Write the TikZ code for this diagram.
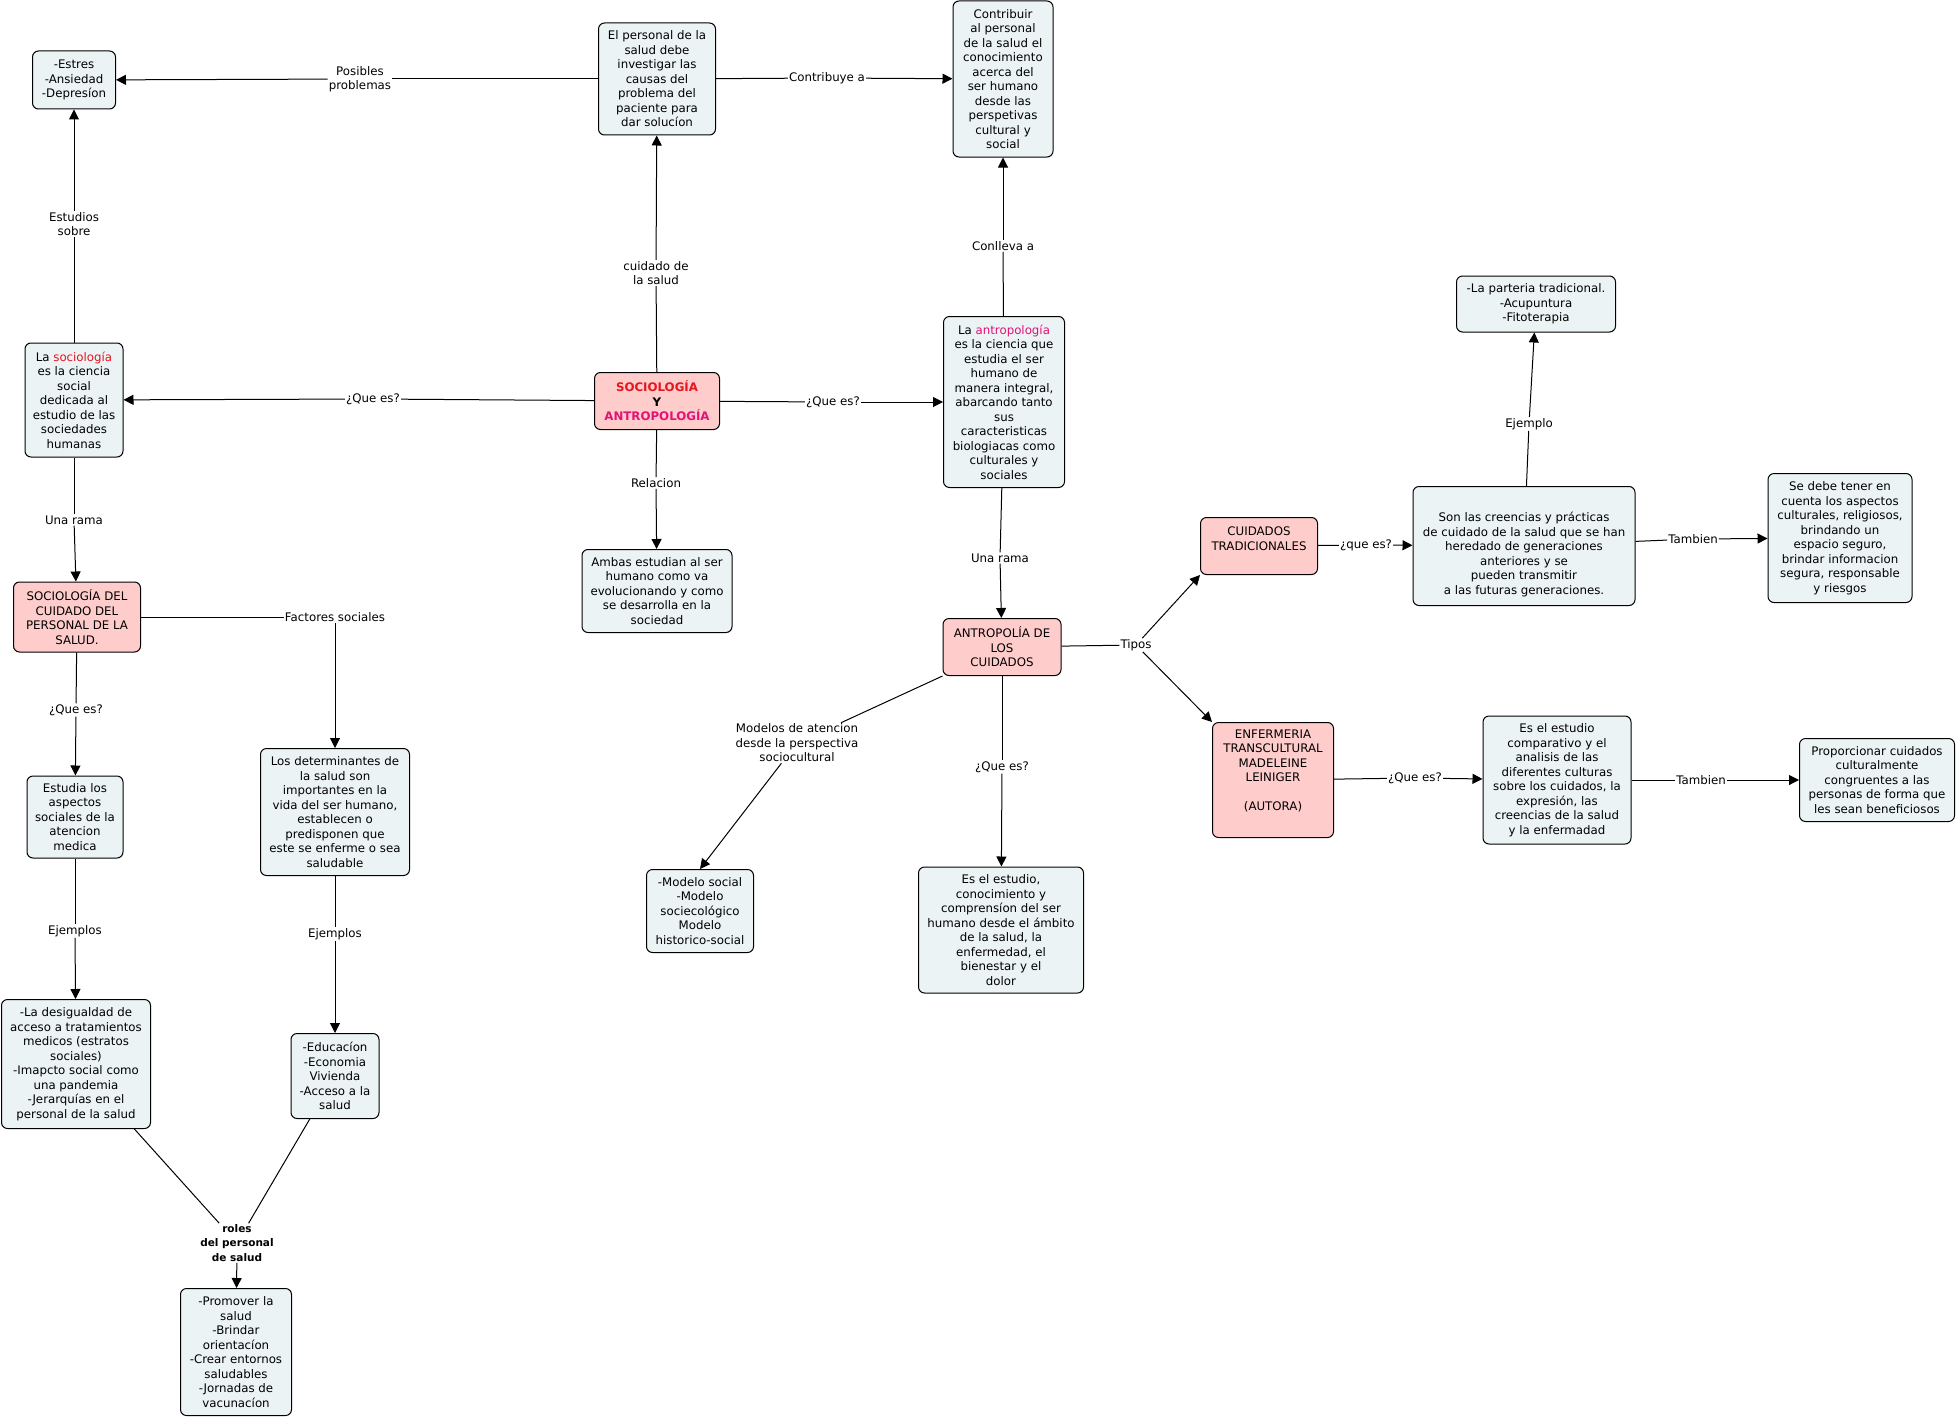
\documentclass[tikz,border=0pt]{standalone}
\usepackage{fontspec}
\setmainfont{DejaVu Sans}
\usetikzlibrary{arrows.meta}
\definecolor{conceptfill}{RGB}{236,243,245}
\definecolor{keyfill}{RGB}{255,204,204}
\definecolor{socred}{RGB}{228,22,30}
\definecolor{antmag}{RGB}{226,18,118}
\begin{document}
\begin{tikzpicture}[x=1pt,y=-1pt,
  every node/.style={font=\fontsize{11.8}{14.5}\selectfont,align=center},
  concept/.style={draw,rounded corners=6pt,fill=conceptfill,line width=1pt,inner sep=2pt},
  keybox/.style={concept,fill=keyfill},
  linkph/.style={fill=white,inner sep=1pt},
  ln/.style={line width=1pt},
  arr/.style={line width=1pt,-{Triangle[length=10pt,width=10pt]}}]
  \useasboundingbox (0,0) rectangle (1956,1418);
  \node[concept,minimum width=83pt,minimum height=58pt] (estres) at (74,80) {-Estres\\-Ansiedad\\-Depresíon};
  \node[concept,minimum width=117pt,minimum height=112pt] (personal) at (657,79) {El personal de la\\salud debe\\investigar las\\causas del\\problema del\\paciente para\\dar solucíon};
  \node[concept,minimum width=100pt,minimum height=156pt] (contribuir) at (1003,79) {Contribuir\\al personal\\de la salud el\\conocimiento\\acerca del\\ser humano\\desde las\\perspetivas\\cultural y\\social};
  \node[concept,minimum width=98pt,minimum height=114pt] (socio) at (74,400) {La \textcolor{socred}{sociología}\\es la ciencia\\social\\dedicada al\\estudio de las\\sociedades\\humanas};
  \node[keybox,font=\fontsize{11.8}{14.5}\selectfont\bfseries,minimum width=125pt,minimum height=57pt] (main) at (657,401) {\textcolor{socred}{SOCIOLOGÍA}\\Y\\\textcolor{antmag}{ANTROPOLOGÍA}};
  \node[concept,minimum width=121pt,minimum height=171pt] (antro) at (1004,402) {La \textcolor{antmag}{antropología}\\es la ciencia que\\estudia el ser\\humano de\\manera integral,\\abarcando tanto\\sus\\caracteristicas\\biologiacas como\\culturales y\\sociales};
  \node[concept,minimum width=150pt,minimum height=83pt] (ambas) at (657,591) {Ambas estudian al ser\\humano como va\\evolucionando y como\\se desarrolla en la\\sociedad};
  \node[keybox,minimum width=118pt,minimum height=57pt] (antcuid) at (1002,647) {ANTROPOLÍA DE\\LOS\\CUIDADOS};
  \node[concept,minimum width=107pt,minimum height=83pt] (modelos) at (700,911) {-Modelo social\\-Modelo\\sociecológico\\Modelo\\historico-social};
  \node[concept,minimum width=165pt,minimum height=126pt] (esestudio) at (1001,930) {Es el estudio,\\conocimiento y\\comprensíon del ser\\humano desde el ámbito\\de la salud, la\\enfermedad, el\\bienestar y el\\dolor};
  \node[keybox,minimum width=117pt,minimum height=57pt] (cuidtrad) at (1259,546) {CUIDADOS\\TRADICIONALES\\[0.5pt]\mbox{}};
  \node[concept,minimum width=222pt,minimum height=119pt] (creencias) at (1524,546) {\mbox{}\\[12pt]Son las creencias y prácticas\\de cuidado de la salud que se han\\heredado de generaciones\\anteriores y se\\pueden transmitir\\a las futuras generaciones.};
  \node[concept,minimum width=159pt,minimum height=56pt] (parteria) at (1536,304) {-La parteria tradicional.\\-Acupuntura\\-Fitoterapia};
  \node[concept,minimum width=144pt,minimum height=129pt] (sedebe) at (1840,538) {Se debe tener en\\cuenta los aspectos\\culturales, religiosos,\\brindando un\\espacio seguro,\\brindar informacion\\segura, responsable\\y riesgos};
  \node[keybox,minimum width=121pt,minimum height=115pt] (enfermeria) at (1273,780) {ENFERMERIA\\TRANSCULTURAL\\MADELEINE\\LEINIGER\\[14.5pt](AUTORA)\\[5pt]\mbox{}};
  \node[concept,minimum width=148pt,minimum height=128pt] (comparativo) at (1557,780) {Es el estudio\\comparativo y el\\analisis de las\\diferentes culturas\\sobre los cuidados, la\\expresión, las\\creencias de la salud\\y la enfermadad};
  \node[concept,minimum width=155pt,minimum height=83pt] (proporcionar) at (1877,780) {Proporcionar cuidados\\culturalmente\\congruentes a las\\personas de forma que\\les sean beneficiosos};
  \node[keybox,minimum width=127pt,minimum height=70pt] (sociocuid) at (77,617) {SOCIOLOGÍA DEL\\CUIDADO DEL\\PERSONAL DE LA\\SALUD.};
  \node[concept,minimum width=96pt,minimum height=82pt] (estudia) at (75,817) {Estudia los\\aspectos\\sociales de la\\atencion\\medica};
  \node[concept,minimum width=149pt,minimum height=127pt] (determinantes) at (335,812) {Los determinantes de\\la salud son\\importantes en la\\vida del ser humano,\\establecen o\\predisponen que\\este se enferme o sea\\saludable};
  \node[concept,minimum width=149pt,minimum height=129pt] (desigualdad) at (76,1064) {-La desigualdad de\\acceso a tratamientos\\medicos (estratos\\sociales)\\-Imapcto social como\\una pandemia\\-Jerarquías en el\\personal de la salud};
  \node[concept,minimum width=88pt,minimum height=85pt] (educacion) at (335,1076) {-Educacíon\\-Economia\\Vivienda\\-Acceso a la\\salud};
  \node[concept,minimum width=111pt,minimum height=127pt] (promover) at (236,1352) {-Promover la\\salud\\-Brindar\\orientacíon\\-Crear entornos\\saludables\\-Jornadas de\\vacunacíon};
  \node[linkph] (lposibles) at (360,79) {Posibles\\problemas};
  \node[linkph] (lcontribuye) at (827,78) {Contribuye a};
  \node[linkph] (lcuidado) at (656,273) {cuidado de\\la salud};
  \node[linkph] (lconlleva) at (1003,246) {Conlleva a};
  \node[linkph] (lestudios) at (74,224) {Estudios\\sobre};
  \node[linkph] (lquesocio) at (373,399) {¿Que es?};
  \node[linkph] (lqueantro) at (833,402) {¿Que es?};
  \node[linkph] (lrelacion) at (656,483) {Relacion};
  \node[linkph] (lramasocio) at (74,520) {Una rama};
  \node[linkph] (lramaantro) at (1000,558) {Una rama};
  \node[linkph] (lfactores) at (335,617) {Factores sociales};
  \node[linkph] (lqueestudia) at (76,710) {¿Que es?};
  \node[linkph] (lejemplos) at (75,931) {Ejemplos};
  \node[linkph] (lejemplosdet) at (335,934) {Ejemplos};
  \node[linkph,font=\fontsize{10.5}{14.5}\selectfont\bfseries] (roles) at (237,1243) {roles\\del personal\\de salud};
  \node[linkph] (ltipos) at (1136,645) {Tipos};
  \node[linkph] (lmodelos) at (797,743) {Modelos de atencion\\desde la perspectiva\\sociocultural};
  \node[linkph] (lqueestudio) at (1002,767) {¿Que es?};
  \node[linkph] (lquetrad) at (1366,545) {¿que es?};
  \node[linkph] (lejemplo) at (1529,424) {Ejemplo};
  \node[linkph] (ltambien) at (1693,539) {Tambien};
  \node[linkph] (lqueenf) at (1415,778) {¿Que es?};
  \node[linkph] (ltambienenf) at (1701,780) {Tambien};
  \draw[ln] (personal) -- (lposibles);
  \draw[arr] (lposibles) -- (estres);
  \draw[ln] (personal) -- (lcontribuye);
  \draw[arr] (lcontribuye) -- (contribuir);
  \draw[ln] (main) -- (lcuidado);
  \draw[arr] (lcuidado) -- (personal);
  \draw[ln] (antro) -- (lconlleva);
  \draw[arr] (lconlleva) -- (contribuir);
  \draw[ln] (socio) -- (lestudios);
  \draw[arr] (lestudios) -- (estres);
  \draw[ln] (main) -- (lquesocio);
  \draw[arr] (lquesocio) -- (socio);
  \draw[ln] (main) -- (lqueantro);
  \draw[arr] (lqueantro) -- (antro);
  \draw[ln] (main) -- (lrelacion);
  \draw[arr] (lrelacion) -- (ambas);
  \draw[ln] (socio) -- (lramasocio);
  \draw[arr] (lramasocio) -- (sociocuid);
  \draw[ln] (antro) -- (lramaantro);
  \draw[arr] (lramaantro) -- (antcuid);
  \draw[ln] (sociocuid) -- (lfactores);
  \draw[arr] (lfactores) -- (determinantes);
  \draw[ln] (sociocuid) -- (lqueestudia);
  \draw[arr] (lqueestudia) -- (estudia);
  \draw[ln] (estudia) -- (lejemplos);
  \draw[arr] (lejemplos) -- (desigualdad);
  \draw[ln] (determinantes) -- (lejemplosdet);
  \draw[arr] (lejemplosdet) -- (educacion);
  \draw[ln] (desigualdad) -- (roles);
  \draw[ln] (educacion) -- (roles);
  \draw[arr] (roles) -- (promover);
  \draw[ln] (antcuid) -- (ltipos);
  \draw[arr] (ltipos) -- (cuidtrad.south west);
  \draw[arr] (ltipos) -- (enfermeria.north west);
  \draw[ln] (antcuid.south west) -- (lmodelos);
  \draw[arr] (lmodelos) -- (modelos.north);
  \draw[ln] (antcuid) -- (lqueestudio);
  \draw[arr] (lqueestudio) -- (esestudio);
  \draw[ln] (cuidtrad) -- (lquetrad);
  \draw[arr] (lquetrad) -- (creencias);
  \draw[ln] (creencias) -- (lejemplo);
  \draw[arr] (lejemplo) -- (parteria);
  \draw[ln] (creencias) -- (ltambien);
  \draw[arr] (ltambien) -- (sedebe);
  \draw[ln] (enfermeria) -- (lqueenf);
  \draw[arr] (lqueenf) -- (comparativo);
  \draw[ln] (comparativo) -- (ltambienenf);
  \draw[arr] (ltambienenf) -- (proporcionar);
\end{tikzpicture}
\end{document}
